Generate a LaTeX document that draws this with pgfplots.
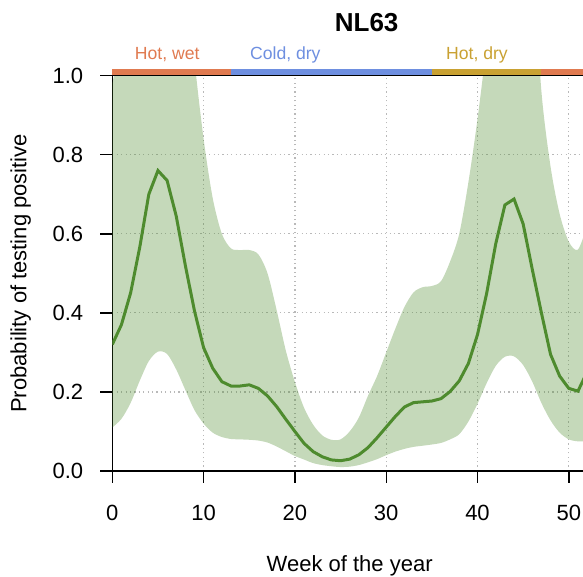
\documentclass[border=0pt]{standalone}
\usepackage{pgfplots}
\pgfplotsset{compat=1.18}
\usepackage{pgfplotstable}
\usepgfplotslibrary{fillbetween}
\usepackage{fontspec}
\setmainfont{Liberation Sans}
\definecolor{meanline}{RGB}{78,139,46}
\definecolor{hotwet}{RGB}{224,122,80}
\definecolor{colddry}{RGB}{110,143,224}
\definecolor{hotdry}{RGB}{201,161,50}
\definecolor{gridc}{RGB}{185,185,185}

\pgfplotstableread{
week mean lower upper
0 0.320 0.110 0.980
1 0.370 0.132 1.100
2 0.450 0.172 1.300
3 0.565 0.228 1.300
4 0.700 0.278 1.300
5 0.760 0.302 1.300
6 0.735 0.296 1.300
7 0.645 0.257 1.300
8 0.520 0.205 1.300
9 0.405 0.154 1.040
10 0.312 0.120 0.840
11 0.260 0.097 0.690
12 0.226 0.086 0.600
13 0.215 0.081 0.563
14 0.215 0.080 0.559
15 0.218 0.079 0.559
16 0.209 0.077 0.548
17 0.190 0.072 0.500
18 0.163 0.062 0.407
19 0.131 0.050 0.305
20 0.100 0.038 0.225
21 0.070 0.029 0.160
22 0.049 0.020 0.117
23 0.036 0.015 0.090
24 0.028 0.012 0.079
25 0.026 0.010 0.080
26 0.030 0.011 0.100
27 0.041 0.015 0.135
28 0.059 0.022 0.190
29 0.084 0.030 0.240
30 0.111 0.040 0.300
31 0.138 0.049 0.360
32 0.162 0.056 0.415
33 0.173 0.061 0.452
34 0.175 0.064 0.465
35 0.177 0.067 0.468
36 0.183 0.071 0.480
37 0.201 0.080 0.530
38 0.228 0.093 0.600
39 0.272 0.125 0.730
40 0.345 0.170 0.890
41 0.449 0.222 1.080
42 0.575 0.266 1.300
43 0.673 0.289 1.300
44 0.688 0.290 1.300
45 0.625 0.268 1.300
46 0.510 0.226 1.300
47 0.400 0.172 0.960
48 0.295 0.128 0.770
49 0.240 0.097 0.650
50 0.209 0.080 0.580
51 0.202 0.075 0.560
52 0.250 0.075 0.620
}\data

\begin{document}
\begin{tikzpicture}
\begin{axis}[
  at={(0,0)}, anchor=south west,
  scale only axis, width=237.38pt, height=197.65pt,
  xmin=0, xmax=52, ymin=0, ymax=1,
  clip mode=individual,
  xtick={0,10,20,30,40,50},
  ytick={0,0.2,0.4,0.6,0.8,1},
  xtick pos=bottom, ytick pos=left,
  tick align=outside,
  major tick length=6pt,
  tick style={black, line width=0.7pt},
  axis line style={black, line width=0.7pt},
  grid=major,
  major grid style={gridc, line width=0.6pt, dash pattern=on 0.6pt off 1.6pt},
  /pgf/number format/assume math mode=true,
  ticklabel style={font=\fontsize{11}{13}\selectfont},
  xticklabel shift=7.3pt,
  yticklabel style={xshift=-5pt, /pgf/number format/fixed, /pgf/number format/fixed zerofill, /pgf/number format/precision=1},
  xticklabel style={/pgf/number format/fixed},
]
\addplot[name path=U, draw=none, forget plot, smooth, tension=0.5] table[x=week, y=upper]{\data};
\addplot[name path=L, draw=none, forget plot, smooth, tension=0.5] table[x=week, y=lower]{\data};
\addplot[fill=meanline, fill opacity=0.33, draw=none] fill between[of=U and L];
\addplot[meanline, line width=1.5pt] table[x=week, y=mean]{\data};

\fill[hotwet] (axis cs:0,1.0) rectangle (axis cs:13,1.0177);
\fill[colddry] (axis cs:13,1.0) rectangle (axis cs:35,1.0177);
\fill[hotdry] (axis cs:35,1.0) rectangle (axis cs:47,1.0177);
\fill[hotwet] (axis cs:47,1.0) rectangle (axis cs:53,1.0177);
\draw[black, line width=0.7pt] (axis cs:0,1) -- (axis cs:53,1);

\node[anchor=base, text=hotwet, font=\fontsize{8.8}{10}\selectfont] at ([yshift=7.85pt]axis cs:6.01,1) {Hot, wet};
\node[anchor=base, text=colddry, font=\fontsize{8.8}{10}\selectfont] at ([yshift=7.85pt]axis cs:18.95,1) {Cold, dry};
\node[anchor=base, text=hotdry, font=\fontsize{8.8}{10}\selectfont] at ([yshift=7.85pt]axis cs:39.94,1) {Hot, dry};
\node[anchor=base, font=\bfseries\fontsize{13}{15}\selectfont] at ([yshift=22pt]axis cs:27.86,1) {NL63};
\node[anchor=base, font=\fontsize{11}{13}\selectfont] at ([yshift=-50.35pt]axis cs:26,0) {Week of the year};
\node[anchor=center, rotate=90, font=\fontsize{11}{13}\selectfont] at ([xshift=-45.8pt]axis cs:0,0.5) {Probability of testing positive};
\end{axis}
\pgfresetboundingbox
\path[use as bounding box] (-56.15pt,-53pt) rectangle (235.35pt,235.5pt);
\end{tikzpicture}
\end{document}
